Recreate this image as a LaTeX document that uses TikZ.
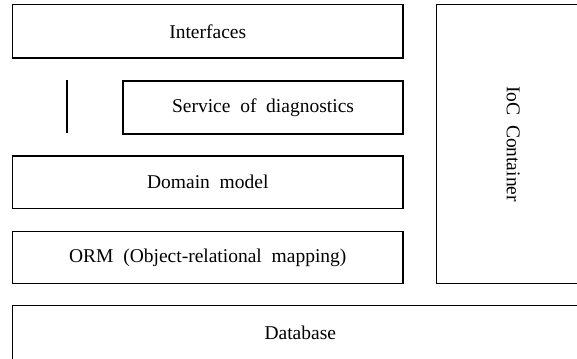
\documentclass[tikz,border=0pt]{standalone}
\usepackage{fontspec}
\setmainfont{Liberation Serif}
\newcommand\lblfont{\fontsize{19.5bp}{22bp}\selectfont\spaceskip=0.5em\relax}
\begin{document}
\begin{tikzpicture}[x=1bp,y=-1bp,
  layer/.style={draw=black,line width=1.8bp,minimum height=0pt,inner sep=0pt},
  lbl/.style={font=\lblfont},
]
\useasboundingbox (0,0) rectangle (577,358);
\clip (0,0) rectangle (577,358);
\draw[layer] (12.5,4.5) rectangle (403,58) node[lbl,midway] (interfaces) {Interfaces};
\draw[layer] (123,81) rectangle (403,134) node[lbl,midway] (service) {Service of diagnostics};
\coordinate (vtop) at (67,80);
\coordinate (vbot) at (67,133);
\draw[line width=1.8bp] (vtop) -- (vbot);
\draw[layer] (12.5,156) rectangle (403,208.5) node[lbl,midway] (domain) {Domain model};
\draw[layer] (12.5,231.5) rectangle (403,283.5) node[lbl,midway] (orm) {ORM (Object-relational mapping)};
\draw[layer] (436.5,4.5) rectangle (590,283.5) node[lbl,midway,rotate=-90] (ioc) {IoC Container};
\draw[layer] (12.5,305.5) rectangle (588,361) node[lbl,midway] (db) {Database};
\end{tikzpicture}
\end{document}
